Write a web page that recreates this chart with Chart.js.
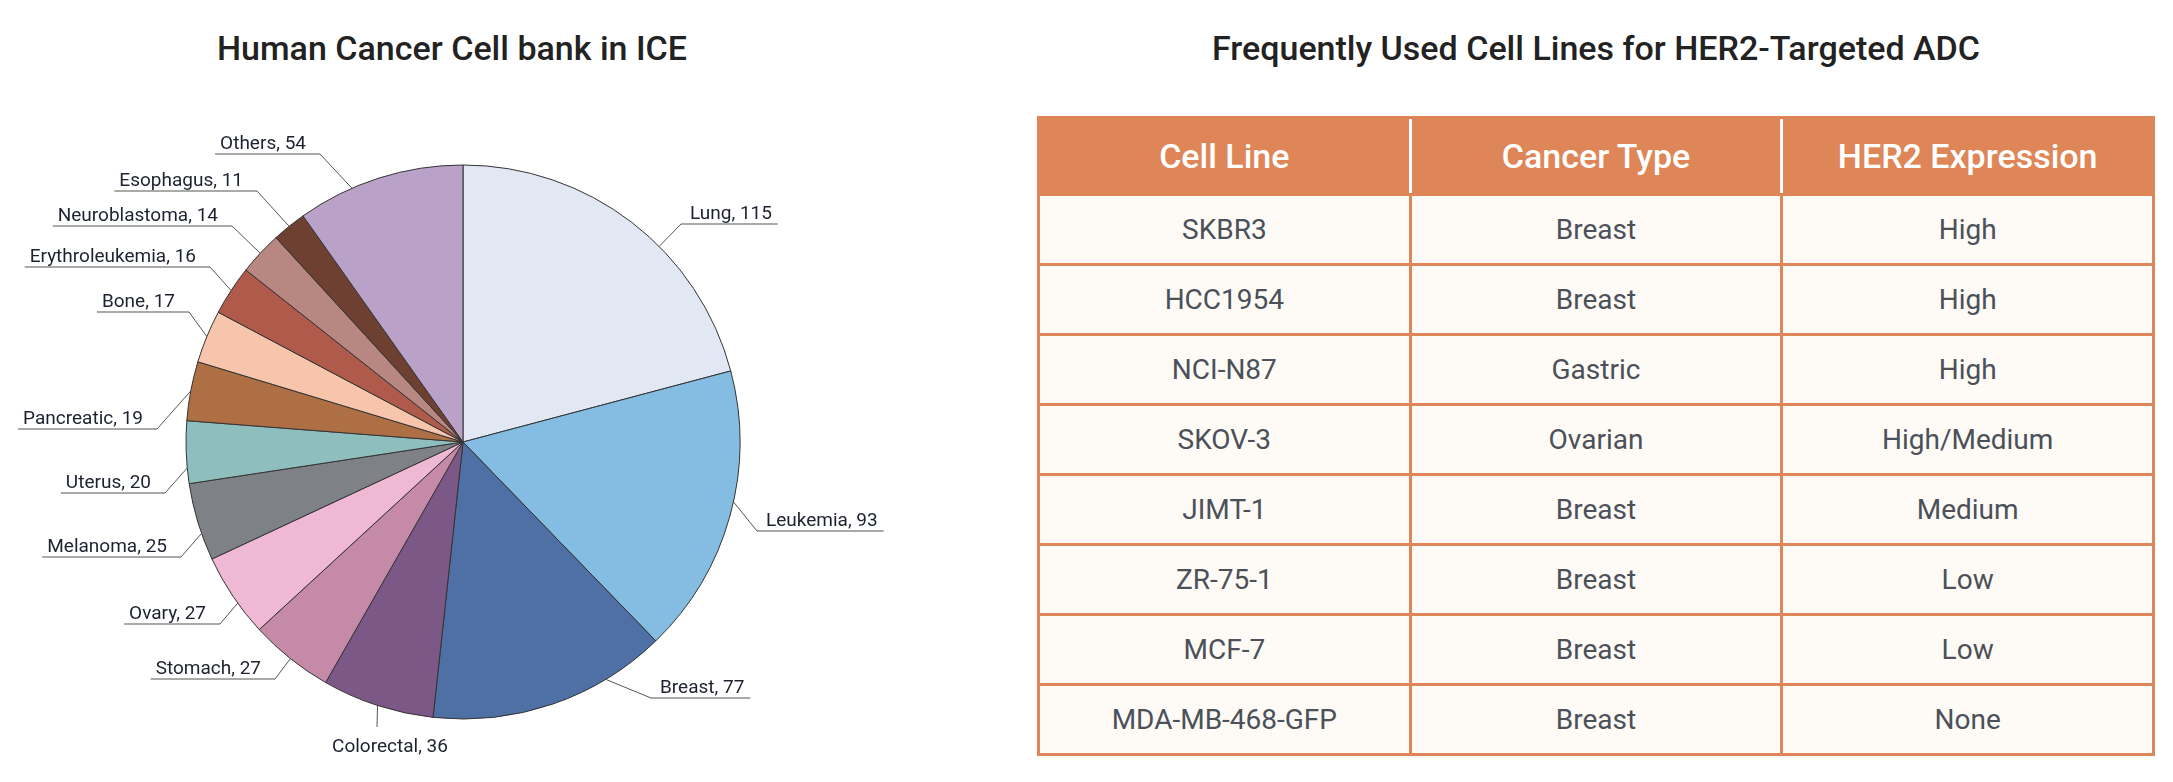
<!DOCTYPE html>
<html>
<head>
<meta charset="utf-8">
<script src="https://cdn.jsdelivr.net/npm/chart.js@4.4.1/dist/chart.umd.min.js"></script>
<style>
html,body{margin:0;padding:0;background:#fff;}
body{width:2173px;height:782px;position:relative;overflow:hidden;font-family:Roboto,sans-serif;}
.title{position:absolute;top:26px;height:44px;line-height:44px;font-size:34px;font-weight:500;color:#222;text-align:center;white-space:nowrap;}
#pieBox{position:absolute;left:0;top:0;width:1000px;height:782px;}
#cellTable{position:absolute;left:1037px;top:116px;width:1118px;border-collapse:collapse;table-layout:fixed;border:3px solid #DE8658;}
#cellTable th{background:#DE8658;color:#fff;font-weight:500;font-size:34px;height:74px;padding:0;border-top:3px solid #DE8658;border-bottom:3px solid #DE8658;}
#cellTable th + th{border-left:3px solid #fff;}
#cellTable td{background:#FEFAF5;color:#4B5059;font-size:28px;height:67px;padding:0;text-align:center;border:3px solid #DE8658;}
</style>
</head>
<body>
<div class="title" style="left:0;width:904px">Human Cancer Cell bank in ICE</div>
<div class="title" style="left:1037px;width:1118px">Frequently Used Cell Lines for HER2-Targeted ADC</div>
<div id="pieBox"><canvas id="pie" width="1000" height="782"></canvas></div>
<table id="cellTable"><thead><tr id="headRow"></tr></thead><tbody id="bodyRows"></tbody></table>
<script>
// pie data (clockwise from 12 o'clock)
const categories=['Lung','Leukemia','Breast','Colorectal','Stomach','Ovary','Melanoma','Uterus','Pancreatic','Bone','Erythroleukemia','Neuroblastoma','Esophagus','Others'];
const cellCounts=[115,93,77,36,27,27,25,20,19,17,16,14,11,54];
const sliceColors=['#E1E7F3','#85BDE2','#4E70A5','#7B5885','#C48AA8','#EFB8D5','#7E8185','#8EBEBE','#AF6F45','#F6C5AB','#B05A4B','#B88782','#6D4032','#B9A1C8'];

// table data
const tableHeaders=['Cell Line','Cancer Type','HER2 Expression'];
const cellLines=['SKBR3','HCC1954','NCI-N87','SKOV-3','JIMT-1','ZR-75-1','MCF-7','MDA-MB-468-GFP'];
const cancerTypes=['Breast','Breast','Gastric','Ovarian','Breast','Breast','Breast','Breast'];
const her2Levels=['High','High','High','High/Medium','Medium','Low','Low','None'];

// label placement: elbow offset from pie centre, where on the slice the leader starts, side
const labelLayout=[[218,-218,0.6,'R'],[294,89,0.45,'R'],[188,256,0.26,'R'],[-86,285,0.5,'B'],[-188,237,0.5,'L'],[-243,182,0.4,'L'],[-282,115,0.35,'L'],[-298,51,0.25,'L'],[-306,-13,0.5,'L'],[-274,-130,0.5,'L'],[-253,-175,0.5,'L'],[-231,-216,0.5,'L'],[-206,-251,0.5,'L'],[-143,-288,0.33,'L']];

document.getElementById('headRow').innerHTML=tableHeaders.map(h=>`<th>${h}</th>`).join('');
document.getElementById('bodyRows').innerHTML=cellLines.map((c,i)=>`<tr><td>${c}</td><td>${cancerTypes[i]}</td><td>${her2Levels[i]}</td></tr>`).join('');

const sliceLabels={id:'sliceLabels',afterDatasetsDraw(chart){
  const ctx=chart.ctx;
  const arcs=chart.getDatasetMeta(0).data;
  ctx.save();
  ctx.font='19px Roboto';
  ctx.lineWidth=1;
  arcs.forEach((arc,i)=>{
    const [dx,dy,at,side]=labelLayout[i];
    const {x,y,startAngle,endAngle,outerRadius}=arc.getProps(['x','y','startAngle','endAngle','outerRadius'],true);
    const a=startAngle+(endAngle-startAngle)*at;
    const sx=x+outerRadius*Math.cos(a), sy=y+outerRadius*Math.sin(a);
    const ex=x+dx, ey=y+dy;
    const txt=`${categories[i]}, ${cellCounts[i]}`;
    const tw=ctx.measureText(txt).width;
    ctx.strokeStyle='#555';
    ctx.beginPath();ctx.moveTo(sx,sy);ctx.lineTo(ex,ey);
    ctx.fillStyle='#1d2230';
    if(side==='B'){
      ctx.stroke();
      ctx.textAlign='center';
      ctx.fillText(txt,ex+13,ey+25);
      return;
    }
    if(side==='R'){
      ctx.lineTo(ex+tw+15,ey);
      ctx.stroke();
      ctx.textAlign='left';
      ctx.fillText(txt,ex+9,ey-5);
    }else{
      ctx.lineTo(ex-tw-19,ey);
      ctx.stroke();
      ctx.textAlign='right';
      ctx.fillText(txt,ex-14,ey-5);
    }
  });
  ctx.restore();
}};

new Chart(document.getElementById('pie'),{
  type:'pie',
  data:{labels:categories,datasets:[{data:cellCounts,backgroundColor:sliceColors,borderColor:'#333',borderWidth:1}]},
  options:{
    responsive:false,animation:false,events:[],
    radius:277,
    layout:{padding:{left:160,right:234,top:140,bottom:38}},
    plugins:{legend:{display:false},tooltip:{enabled:false},title:{display:false}}
  },
  plugins:[sliceLabels]
});
</script>
</body>
</html>
